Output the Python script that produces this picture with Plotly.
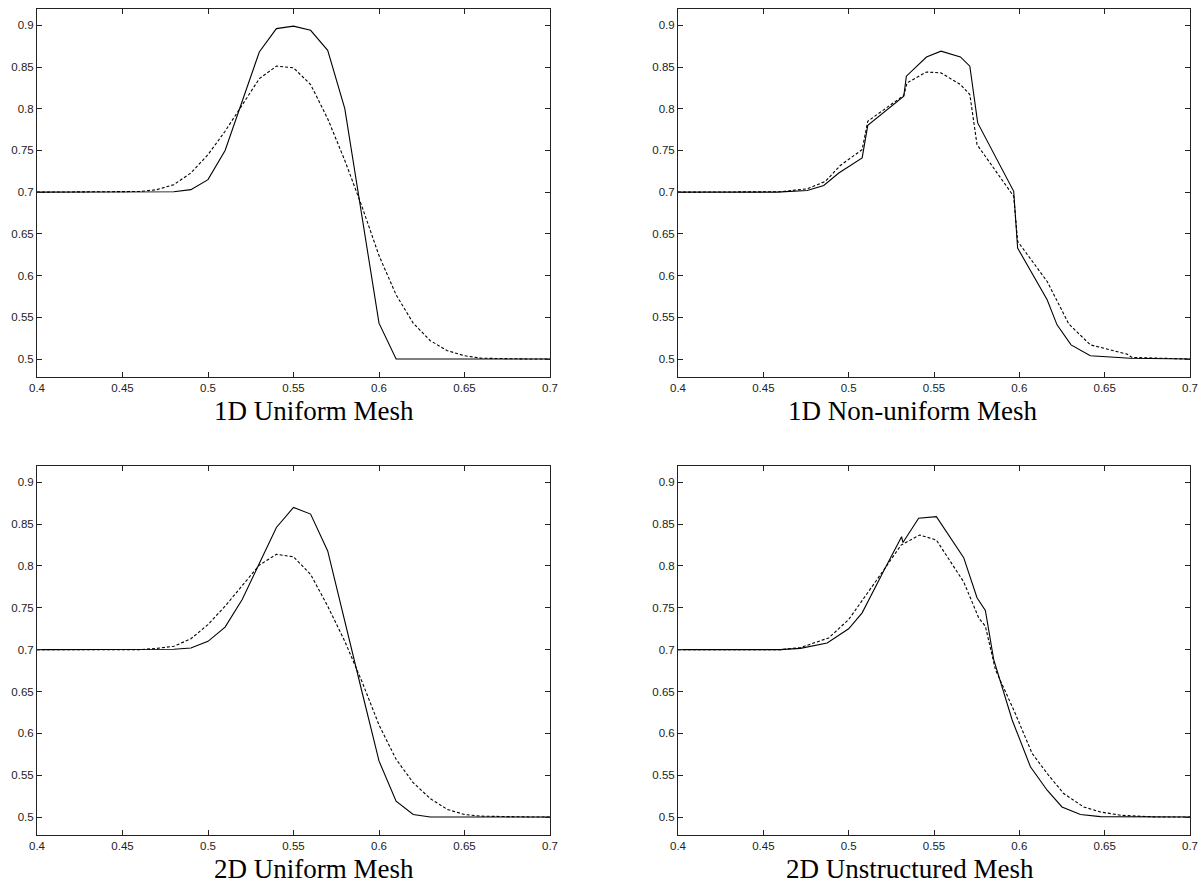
import plotly.graph_objects as go

# ---------------- data ----------------
x_uniform = [0.40, 0.41, 0.42, 0.43, 0.44, 0.45, 0.46, 0.47, 0.48, 0.49,
             0.50, 0.51, 0.52, 0.53, 0.54, 0.55, 0.56, 0.57, 0.58, 0.59,
             0.60, 0.61, 0.62, 0.63, 0.64, 0.65, 0.66, 0.67, 0.68, 0.69, 0.70]

u1d_solid = [0.7, 0.7, 0.7, 0.7, 0.7, 0.7, 0.7, 0.7, 0.7005, 0.703,
             0.715, 0.750, 0.810, 0.868, 0.896, 0.899, 0.894, 0.870, 0.800, 0.670,
             0.543, 0.500, 0.5, 0.5, 0.5, 0.5, 0.5, 0.5, 0.5, 0.5, 0.5]
u1d_dashed = [0.7, 0.7, 0.7, 0.7, 0.7, 0.7, 0.7008, 0.703, 0.709, 0.723,
              0.745, 0.773, 0.805, 0.836, 0.851, 0.849, 0.829, 0.788, 0.738, 0.683,
              0.624, 0.577, 0.543, 0.522, 0.510, 0.504, 0.501, 0.5005, 0.5, 0.5, 0.5]

u2d_solid = [0.7, 0.7, 0.7, 0.7, 0.7, 0.7, 0.7, 0.7, 0.7005, 0.702,
             0.710, 0.727, 0.760, 0.803, 0.846, 0.870, 0.862, 0.818, 0.733, 0.650,
             0.567, 0.519, 0.503, 0.500, 0.5, 0.5, 0.5, 0.5, 0.5, 0.5, 0.5]
u2d_dashed = [0.7, 0.7, 0.7, 0.7, 0.7, 0.7, 0.7, 0.7015, 0.704, 0.713,
              0.730, 0.752, 0.777, 0.801, 0.814, 0.811, 0.790, 0.752, 0.710, 0.662,
              0.610, 0.569, 0.541, 0.522, 0.509, 0.503, 0.501, 0.5005, 0.5, 0.5, 0.5]

nu_solid_x = [0.40, 0.44, 0.458, 0.4757, 0.4854, 0.4942, 0.5079, 0.5112, 0.5323,
              0.5338, 0.5456, 0.5541, 0.5655, 0.571, 0.5756, 0.5967, 0.599, 0.6163,
              0.6221, 0.6303, 0.6416, 0.665, 0.70]
nu_solid_y = [0.7, 0.7, 0.7, 0.702, 0.708, 0.723, 0.741, 0.780, 0.815,
              0.839, 0.862, 0.869, 0.862, 0.851, 0.783, 0.701, 0.633, 0.571,
              0.541, 0.517, 0.504, 0.501, 0.500]
nu_dashed_x = [0.40, 0.45, 0.46, 0.4757, 0.4864, 0.4951, 0.5079, 0.5112, 0.5323,
               0.5342, 0.5456, 0.554, 0.5655, 0.571, 0.5752, 0.5967, 0.599, 0.6163,
               0.629, 0.6416, 0.663, 0.666, 0.70]
nu_dashed_y = [0.7, 0.7, 0.7005, 0.704, 0.713, 0.732, 0.751, 0.785, 0.816,
               0.831, 0.844, 0.843, 0.829, 0.817, 0.757, 0.695, 0.641, 0.593,
               0.542, 0.517, 0.506, 0.502, 0.500]

us_solid_x = [0.40, 0.46, 0.4717, 0.4874, 0.50, 0.5079, 0.5205, 0.531, 0.5318,
              0.541, 0.5514, 0.5674, 0.5752, 0.5801, 0.585, 0.5958, 0.6065, 0.6163,
              0.625, 0.6358, 0.6475, 0.70]
us_solid_y = [0.7, 0.7, 0.7015, 0.708, 0.725, 0.744, 0.794, 0.835, 0.828,
              0.857, 0.859, 0.810, 0.762, 0.747, 0.688, 0.616, 0.560, 0.532,
              0.512, 0.503, 0.5005, 0.500]
us_dashed_x = [0.40, 0.46, 0.4717, 0.4883, 0.50, 0.5079, 0.5167, 0.5307, 0.5416,
               0.5514, 0.5674, 0.5762, 0.5801, 0.586, 0.5967, 0.6075, 0.6163, 0.626,
               0.6377, 0.6475, 0.66, 0.68, 0.70]
us_dashed_y = [0.7, 0.7, 0.7025, 0.714, 0.736, 0.758, 0.784, 0.825, 0.837,
               0.831, 0.781, 0.738, 0.728, 0.676, 0.628, 0.576, 0.552, 0.528,
               0.512, 0.506, 0.502, 0.500, 0.500]

titles = ["1D Uniform Mesh", "1D Non-uniform Mesh", "2D Uniform Mesh", "2D Unstructured Mesh"]
x_ticks = [0.4, 0.45, 0.5, 0.55, 0.6, 0.65, 0.7]
x_tick_text = ["0.4", "0.45", "0.5", "0.55", "0.6", "0.65", "0.7"]
y_ticks = [0.5, 0.55, 0.6, 0.65, 0.7, 0.75, 0.8, 0.85, 0.9]
y_tick_text = ["0.5", "0.55", "0.6", "0.65", "0.7", "0.75", "0.8", "0.85", "0.9"]

# ---------------- figure ----------------
W, H = 1199, 886
panels = [
    dict(sx=x_uniform, sy=u1d_solid, dx=x_uniform, dy=u1d_dashed, px=(37, 550), py=(9, 377), tx=314),
    dict(sx=nu_solid_x, sy=nu_solid_y, dx=nu_dashed_x, dy=nu_dashed_y, px=(678, 1190), py=(9, 377), tx=912),
    dict(sx=x_uniform, sy=u2d_solid, dx=x_uniform, dy=u2d_dashed, px=(37, 550), py=(466, 835), tx=314),
    dict(sx=us_solid_x, sy=us_solid_y, dx=us_dashed_x, dy=us_dashed_y, px=(678, 1190), py=(466, 835), tx=910),
]

fig = go.Figure()
layout = {}
annotations = []
for i, p in enumerate(panels):
    n = "" if i == 0 else str(i + 1)
    xa, ya = "x" + n, "y" + n
    fig.add_trace(go.Scatter(x=p["sx"], y=p["sy"], mode="lines", xaxis=xa, yaxis=ya,
                             line=dict(color="black", width=1.1), showlegend=False))
    fig.add_trace(go.Scatter(x=p["dx"], y=p["dy"], mode="lines", xaxis=xa, yaxis=ya,
                             line=dict(color="black", width=1.1, dash="3px,2px"), showlegend=False))
    common = dict(showline=True, linecolor="#222", linewidth=1, mirror="ticks",
                  ticks="inside", ticklen=5, tickwidth=1, tickcolor="#222",
                  showgrid=False, zeroline=False, automargin=False,
                  tickfont=dict(family="Liberation Sans", size=11.5, color="#222"))
    layout["xaxis" + n] = dict(domain=[p["px"][0] / W, p["px"][1] / W], anchor=ya,
                               range=[0.4, 0.7], tickvals=x_ticks, ticktext=x_tick_text, **common)
    layout["yaxis" + n] = dict(domain=[1 - p["py"][1] / H, 1 - p["py"][0] / H], anchor=xa,
                               range=[0.4785, 0.9195], tickvals=y_ticks, ticktext=y_tick_text, **common)
    annotations.append(dict(text=titles[i], xref="paper", yref="paper", showarrow=False,
                            x=p["tx"] / W, y=1 - (p["py"][1] + 34) / H,
                            xanchor="center", yanchor="middle",
                            font=dict(family="Liberation Serif", size=27, color="black")))

fig.update_layout(width=W, height=H,
                  margin=dict(l=0, r=0, t=0, b=0, pad=0, autoexpand=False),
                  plot_bgcolor="white", paper_bgcolor="white",
                  annotations=annotations, **layout)
fig.write_html("out.html", config={"displayModeBar": False},
               post_script="document.body.style.margin='0px';document.body.style.padding='0px';")
